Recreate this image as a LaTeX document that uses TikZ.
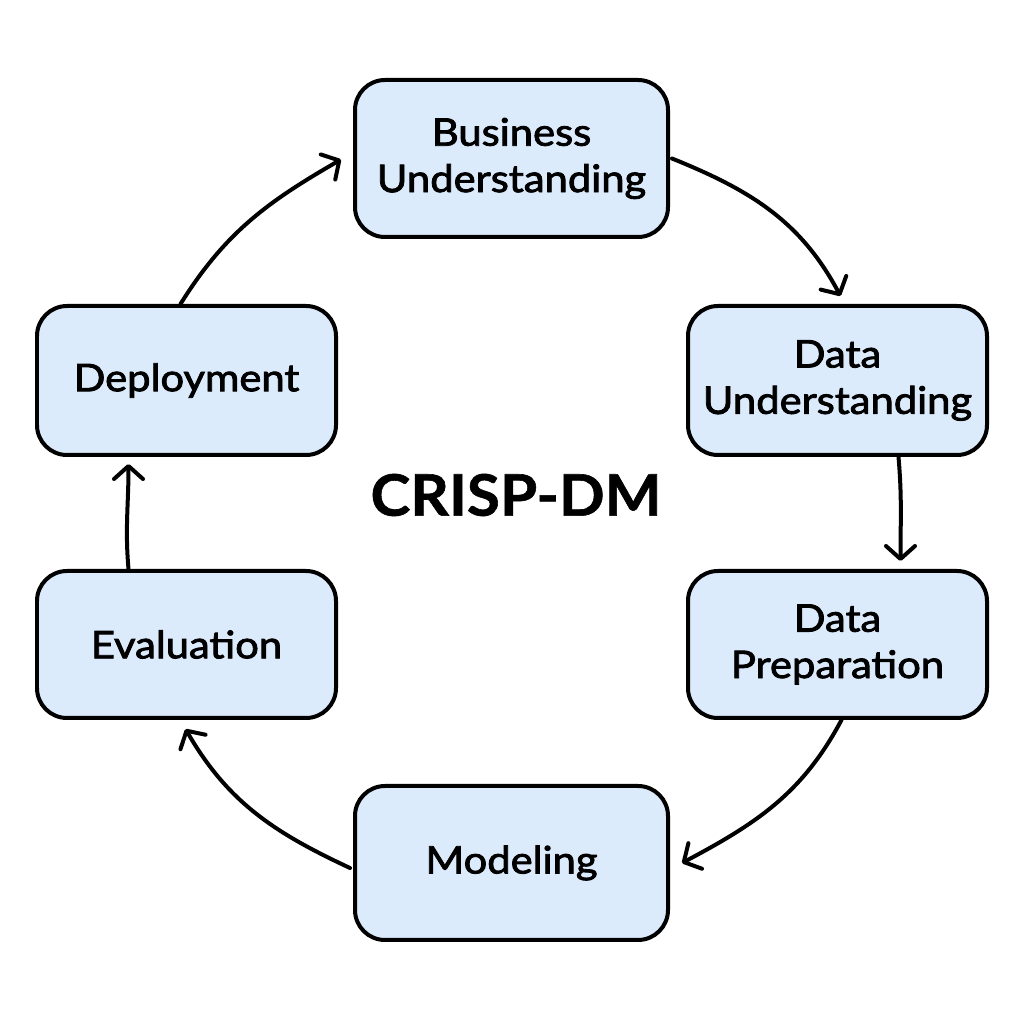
\documentclass[tikz,border=0pt]{standalone}
\usepackage{fontspec}
\setmainfont{Lato}
\newfontfamily\lblfont{Lato}[FakeBold=2.2,FakeStretch=1.1]
\newfontfamily\titlefont{Lato Bold}[FakeBold=1,FakeStretch=1.05]
\usetikzlibrary{arrows.meta}
\definecolor{boxfill}{RGB}{220,235,252}
\tikzset{
  phase/.style={draw=black, line width=0.04cm, fill=boxfill, rounded corners=0.3cm,
    align=center, inner sep=0pt, font=\lblfont\fontsize{10.8}{13.2}\selectfont},
  flow/.style={line width=0.04cm, line cap=round,
    -{Straight Barb[length=0.13cm,width=0.29cm,line cap=round,line join=round]}}
}
\begin{document}
\begin{tikzpicture}
\useasboundingbox (0,0) rectangle (10.24,10.24);
\node[phase, minimum width=3.13cm, minimum height=1.57cm] (bu) at (5.115,8.655) {Business\\Understanding};
\node[phase, minimum width=2.99cm, minimum height=1.49cm] (du) at (8.375,6.435) {Data\\Understanding};
\node[phase, minimum width=2.99cm, minimum height=1.47cm] (dp) at (8.375,3.795) {Data\\Preparation};
\node[phase, minimum width=3.13cm, minimum height=1.54cm] (mo) at (5.115,1.61) {Modeling};
\node[phase, minimum width=2.99cm, minimum height=1.47cm] (ev) at (1.865,3.795) {Evaluation};
\node[phase, minimum width=2.99cm, minimum height=1.49cm] (de) at (1.865,6.435) {Deployment};
\node[font=\titlefont\fontsize{16.3}{18}\selectfont] (title) at (5.16,5.29) {CRISP-DM};

\draw[flow] ([xshift=0.02cm]bu.east) to[out=-22,in=118] ([xshift=0.03cm,yshift=0.08cm]du.north);
\draw[flow] ([xshift=0.61cm]du.south) to[out=-85,in=90] ([xshift=0.63cm,yshift=0.08cm]dp.north);
\draw[flow] ([xshift=0.04cm]dp.south) to[out=-118,in=28] ([xshift=0.12cm]mo.east);
\draw[flow] ([xshift=-0.03cm,yshift=-0.05cm]mo.west) to[out=155,in=-60] ([xshift=-0.01cm,yshift=-0.09cm]ev.south);
\draw[flow] ([xshift=-0.58cm]ev.north) to[out=95,in=-90] ([xshift=-0.58cm,yshift=-0.07cm]de.south);
\draw[flow] ([xshift=-0.06cm]de.north) to[out=58,in=-150] ([xshift=-0.12cm,yshift=-0.01cm]bu.west);
\end{tikzpicture}
\end{document}
